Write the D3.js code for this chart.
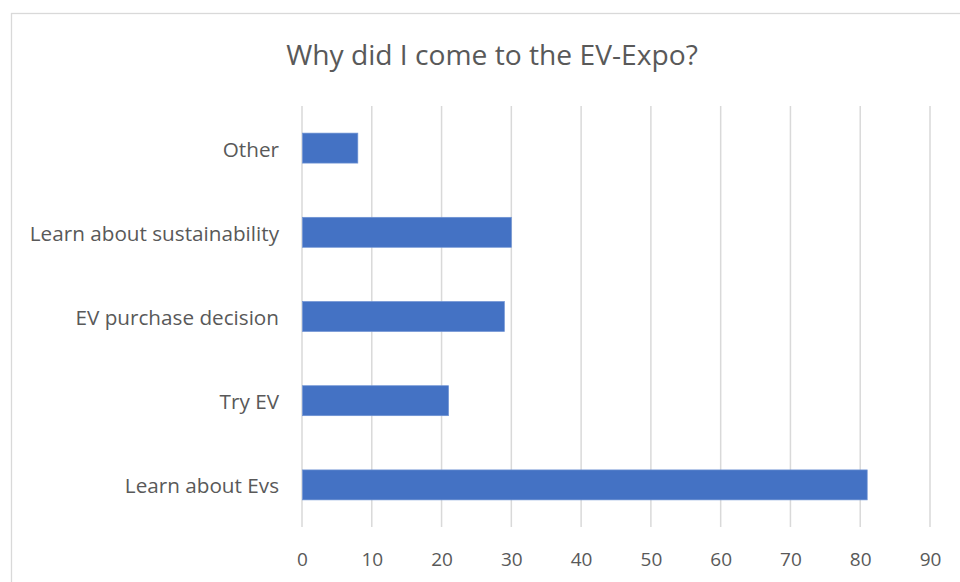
<!DOCTYPE html>
<html><head><meta charset="utf-8">
<script src="https://cdn.jsdelivr.net/npm/d3@7"></script>
<style>html,body{margin:0;padding:0;background:#fff;}svg{display:block;}</style>
</head><body>
<script>
const title = "Why did I come to the EV-Expo?";
const categories = ["Other", "Learn about sustainability", "EV purchase decision", "Try EV", "Learn about Evs"];
const values = [8, 30, 29, 21, 81];
const xTicks = [0, 10, 20, 30, 40, 50, 60, 70, 80, 90];

const W = 960, H = 582;
const font = "'Open Sans', sans-serif";
const svg = d3.select("body").append("svg").attr("width", W).attr("height", H);

svg.append("rect").attr("x", 11.5).attr("y", 13.5).attr("width", 1000).attr("height", 700)
  .attr("fill", "#fff").attr("stroke", "#D9D9D9").attr("stroke-width", 1.3);

const x = d3.scaleLinear().domain([0, 90]).range([302, 930]);
const y = d3.scaleBand().domain(categories).range([106, 527]).paddingInner(0.644).paddingOuter(0.322);

svg.append("g").selectAll("line").data(xTicks).join("line")
  .attr("x1", d => x(d)).attr("x2", d => x(d)).attr("y1", 106).attr("y2", 527)
  .attr("stroke", "#D9D9D9").attr("stroke-width", 1.5);

svg.append("g").selectAll("rect").data(values).join("rect")
  .attr("x", x(0) + 0.5).attr("y", (d, i) => y(categories[i]))
  .attr("width", d => x(d) - x(0) - 0.5).attr("height", y.bandwidth())
  .attr("fill", "#4472C4").attr("stroke", "#6f93d4").attr("stroke-width", 0.7);

const xAxis = d3.axisBottom(x).tickValues(xTicks).tickSize(0).tickPadding(0);
const gx = svg.append("g").attr("transform", "translate(0,566)").call(xAxis);
gx.select(".domain").remove();
gx.selectAll("text").attr("font-family", font).attr("font-size", 19).attr("fill", "#595959").attr("dy", 0);

const yAxis = d3.axisLeft(y).tickSize(0).tickPadding(0);
const gy = svg.append("g").attr("transform", "translate(279,0)").call(yAxis);
gy.select(".domain").remove();
gy.selectAll("text").attr("font-family", font).attr("font-size", 20.7).attr("fill", "#595959").attr("dy", 8.5);

svg.append("text").attr("x", 492).attr("y", 65).attr("text-anchor", "middle")
  .attr("font-family", font).attr("font-size", 28.2).attr("fill", "#595959").text(title);
</script>
</body></html>
